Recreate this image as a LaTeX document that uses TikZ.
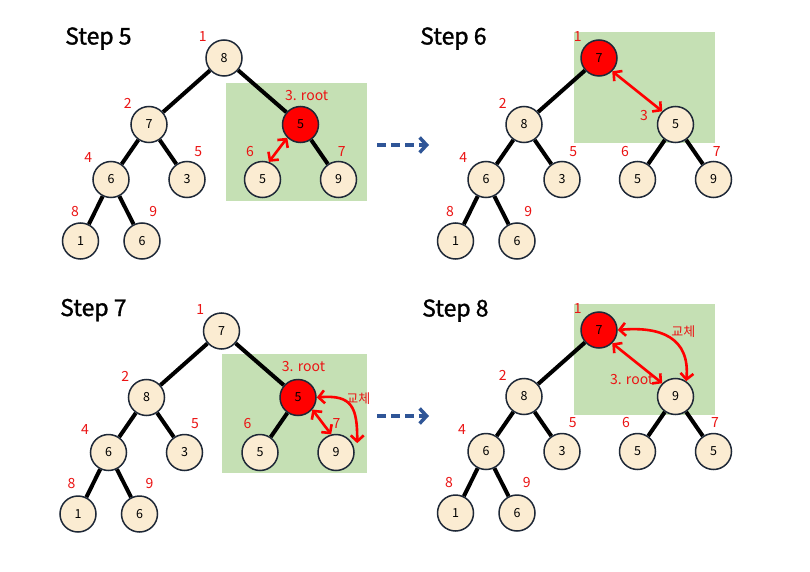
\documentclass[tikz,border=0pt]{standalone}
\usepackage{fontspec}
\setmainfont{Noto Sans CJK KR}
\newfontfamily\titlefont[FakeBold=1.2]{Noto Sans CJK KR}
\usetikzlibrary{arrows.meta}

\pgfdeclarelayer{paper}
\pgfdeclarelayer{bg}
\pgfdeclarelayer{edges}
\pgfsetlayers{paper,bg,edges,main}

\definecolor{nodefill}{RGB}{251,236,210}
\definecolor{nodeline}{RGB}{30,40,55}
\definecolor{zone}{RGB}{197,224,180}
\definecolor{hot}{RGB}{255,0,0}
\definecolor{idxred}{RGB}{235,20,20}
\definecolor{flow}{RGB}{47,85,151}

\tikzset{
  heapnode/.style={circle, draw=nodeline, line width=1.5pt, fill=nodefill,
    minimum size=36pt, inner sep=0pt, font=\fontsize{12.5}{12.5}\selectfont},
  hotnode/.style={heapnode, fill=hot},
  idx/.style={text=idxred, font=\fontsize{14}{14}\selectfont, inner sep=0pt},
  swaptext/.style={text=idxred, font=\fontsize{13}{13}\selectfont, inner sep=0pt},
  steptitle/.style={font=\titlefont\fontsize{23}{23}\selectfont, inner sep=0pt, anchor=base west},
  link/.style={line width=4pt, draw=black},
  swap/.style={draw=hot, line width=2.6pt,
    {Straight Barb[length=6pt,width=13pt]}-{Straight Barb[length=6pt,width=13pt]}},
  zonebox/.style={fill=zone},
  stepflow/.style={draw=flow, line width=3.5pt, dash pattern=on 9pt off 5pt,
    -{Straight Barb[length=7pt,width=15pt]}},
}

\begin{document}
\begin{tikzpicture}[x=1pt,y=-1pt]
  \begin{pgfonlayer}{paper}
    \fill[white] (0,0) rectangle (810,572);
  \end{pgfonlayer}
  \useasboundingbox (0,0) rectangle (810,572);

  % titles
  \node[steptitle] (t5) at (65,44.5) {Step 5};
  \node[steptitle] (t6) at (420,44.5) {Step 6};
  \node[steptitle] (t7) at (60,316) {Step 7};
  \node[steptitle] (t8) at (422,316.5) {Step 8};

  % arrows between steps
  \coordinate (f1a) at (377,145);
  \coordinate (f1b) at (429,145);
  \draw[stepflow] (f1a) -- (f1b);
  \coordinate (f2a) at (377,416);
  \coordinate (f2b) at (429,416);
  \draw[stepflow] (f2a) -- (f2b);

  % ---------- Step 5 ----------
  \begin{scope}[shift={(224,58)}]
    \begin{pgfonlayer}{bg}
      \fill[zonebox] (2,24.6) rectangle (143.3,143.3);
    \end{pgfonlayer}
    \node[heapnode] (s5r) at (0,0) {8};
    \node[heapnode] (s5a) at (-75,66.5) {7};
    \node[hotnode]  (s5b) at (76.5,66.5) {5};
    \node[heapnode] (s5c) at (-113,121.5) {6};
    \node[heapnode] (s5d) at (-37,121.5) {3};
    \node[heapnode] (s5e) at (38.5,121.5) {5};
    \node[heapnode] (s5f) at (114.5,121.5) {9};
    \node[heapnode] (s5g) at (-143.5,183) {1};
    \node[heapnode] (s5h) at (-82,183) {6};
    \begin{pgfonlayer}{edges}
      \draw[link] (s5r) -- (s5a);
      \draw[link] (s5r) -- (s5b);
      \draw[link] (s5a) -- (s5c);
      \draw[link] (s5a) -- (s5d);
      \draw[link] (s5c) -- (s5g);
      \draw[link] (s5c) -- (s5h);
      \draw[link] (s5b) -- (s5f);
    \end{pgfonlayer}
    \draw[swap] (s5e.70) -- (s5b.225);
    \node[idx] (s5i1) at (-21.3,-21) {1};
    \node[idx] (s5i2) at (-96.3,45) {2};
    \node[idx] (s5i3) at (82.7,37.3) {3. root};
    \node[idx] (s5i4) at (-135.7,100) {4};
    \node[idx] (s5i5) at (-25.7,93.3) {5};
    \node[idx] (s5i6) at (26,93.3) {6};
    \node[idx] (s5i7) at (117.7,93.3) {7};
    \node[idx] (s5i8) at (-149,153.3) {8};
    \node[idx] (s5i9) at (-70.7,153.3) {9};
  \end{scope}

  % ---------- Step 6 ----------
  \begin{scope}[shift={(599,58)}]
    \begin{pgfonlayer}{bg}
      \fill[zonebox] (-25,-25.7) rectangle (116,84.7);
    \end{pgfonlayer}
    \node[hotnode]  (s6r) at (0,0) {7};
    \node[heapnode] (s6a) at (-75,66.5) {8};
    \node[heapnode] (s6b) at (76.5,66.5) {5};
    \node[heapnode] (s6c) at (-113,121.5) {6};
    \node[heapnode] (s6d) at (-37,121.5) {3};
    \node[heapnode] (s6e) at (38.5,121.5) {5};
    \node[heapnode] (s6f) at (114.5,121.5) {9};
    \node[heapnode] (s6g) at (-143.5,183) {1};
    \node[heapnode] (s6h) at (-82,183) {6};
    \begin{pgfonlayer}{edges}
      \draw[link] (s6r) -- (s6a);
      \draw[link] (s6a) -- (s6c);
      \draw[link] (s6a) -- (s6d);
      \draw[link] (s6c) -- (s6g);
      \draw[link] (s6c) -- (s6h);
      \draw[link] (s6b) -- (s6e);
      \draw[link] (s6b) -- (s6f);
    \end{pgfonlayer}
    \draw[swap] (s6r.-45) -- (s6b.135);
    \node[idx] (s6i1) at (-21.3,-21) {1};
    \node[idx] (s6i2) at (-96.3,45) {2};
    \node[idx] (s6i3) at (45,57.3) {3};
    \node[idx] (s6i4) at (-135.7,100) {4};
    \node[idx] (s6i5) at (-25.7,93.3) {5};
    \node[idx] (s6i6) at (26,93.3) {6};
    \node[idx] (s6i7) at (117.7,93.3) {7};
    \node[idx] (s6i8) at (-149,153.3) {8};
    \node[idx] (s6i9) at (-70.7,153.3) {9};
  \end{scope}

  % ---------- Step 7 ----------
  \begin{scope}[shift={(221.5,331)}]
    \begin{pgfonlayer}{bg}
      \fill[zonebox] (0.8,23.3) rectangle (145.8,141.7);
    \end{pgfonlayer}
    \node[heapnode] (s7r) at (0,0) {7};
    \node[heapnode] (s7a) at (-75,66.5) {8};
    \node[hotnode]  (s7b) at (76.5,66.5) {5};
    \node[heapnode] (s7c) at (-113,121.5) {6};
    \node[heapnode] (s7d) at (-37,121.5) {3};
    \node[heapnode] (s7e) at (38.5,121.5) {5};
    \node[heapnode] (s7f) at (114.5,121.5) {9};
    \node[heapnode] (s7g) at (-143.5,183) {1};
    \node[heapnode] (s7h) at (-82,183) {6};
    \begin{pgfonlayer}{edges}
      \draw[link] (s7r) -- (s7a);
      \draw[link] (s7r) -- (s7b);
      \draw[link] (s7a) -- (s7c);
      \draw[link] (s7a) -- (s7d);
      \draw[link] (s7c) -- (s7g);
      \draw[link] (s7c) -- (s7h);
      \draw[link] (s7b) -- (s7e);
    \end{pgfonlayer}
    \draw[swap] (s7b.-40) -- (s7f.105);
    \draw[swap] (s7b.east) to[out=5,in=90,looseness=1.5] ([xshift=5pt]s7f.30);
    \node[idx] (s7i1) at (-21.3,-21) {1};
    \node[idx] (s7i2) at (-96.3,45) {2};
    \node[idx] (s7i3) at (82,36) {3. root};
    \node[idx] (s7i4) at (-136.5,99) {4};
    \node[idx] (s7i5) at (-26.5,92.5) {5};
    \node[idx] (s7i6) at (26,92.5) {6};
    \node[idx] (s7i7) at (115,92.5) {7};
    \node[idx] (s7i8) at (-150,153) {8};
    \node[idx] (s7i9) at (-72,152.5) {9};
    \node[swaptext] (s7sw) at (136.8,68) {교체};
  \end{scope}

  % ---------- Step 8 ----------
  \begin{scope}[shift={(599,330)}]
    \begin{pgfonlayer}{bg}
      \fill[zonebox] (-25,-25.7) rectangle (116,85);
    \end{pgfonlayer}
    \node[hotnode]  (s8r) at (0,0) {7};
    \node[heapnode] (s8a) at (-75,66.5) {8};
    \node[heapnode] (s8b) at (76.5,66.5) {9};
    \node[heapnode] (s8c) at (-113,121.5) {6};
    \node[heapnode] (s8d) at (-37,121.5) {3};
    \node[heapnode] (s8e) at (38.5,121.5) {5};
    \node[heapnode] (s8f) at (114.5,121.5) {5};
    \node[heapnode] (s8g) at (-143.5,183) {1};
    \node[heapnode] (s8h) at (-82,183) {6};
    \begin{pgfonlayer}{edges}
      \draw[link] (s8r) -- (s8a);
      \draw[link] (s8a) -- (s8c);
      \draw[link] (s8a) -- (s8d);
      \draw[link] (s8c) -- (s8g);
      \draw[link] (s8c) -- (s8h);
      \draw[link] (s8b) -- (s8e);
      \draw[link] (s8b) -- (s8f);
    \end{pgfonlayer}
    \node[idx] (s8i3) at (32.7,49.3) {3. root};
    \draw[swap] (s8r.-45) -- (s8b.135);
    \draw[swap] (s8r.east) to[out=5,in=85,looseness=1.3] (s8b.55);
    \node[idx] (s8i1) at (-21.3,-21) {1};
    \node[idx] (s8i2) at (-96.3,45) {2};
    \node[idx] (s8i4) at (-137,99.3) {4};
    \node[idx] (s8i5) at (-26.3,92.7) {5};
    \node[idx] (s8i6) at (27,92.7) {6};
    \node[idx] (s8i7) at (116,92.7) {7};
    \node[idx] (s8i8) at (-150,152.7) {8};
    \node[idx] (s8i9) at (-72.3,152.7) {9};
    \node[swaptext] (s8sw) at (84.3,1.7) {교체};
  \end{scope}
\end{tikzpicture}
\end{document}
